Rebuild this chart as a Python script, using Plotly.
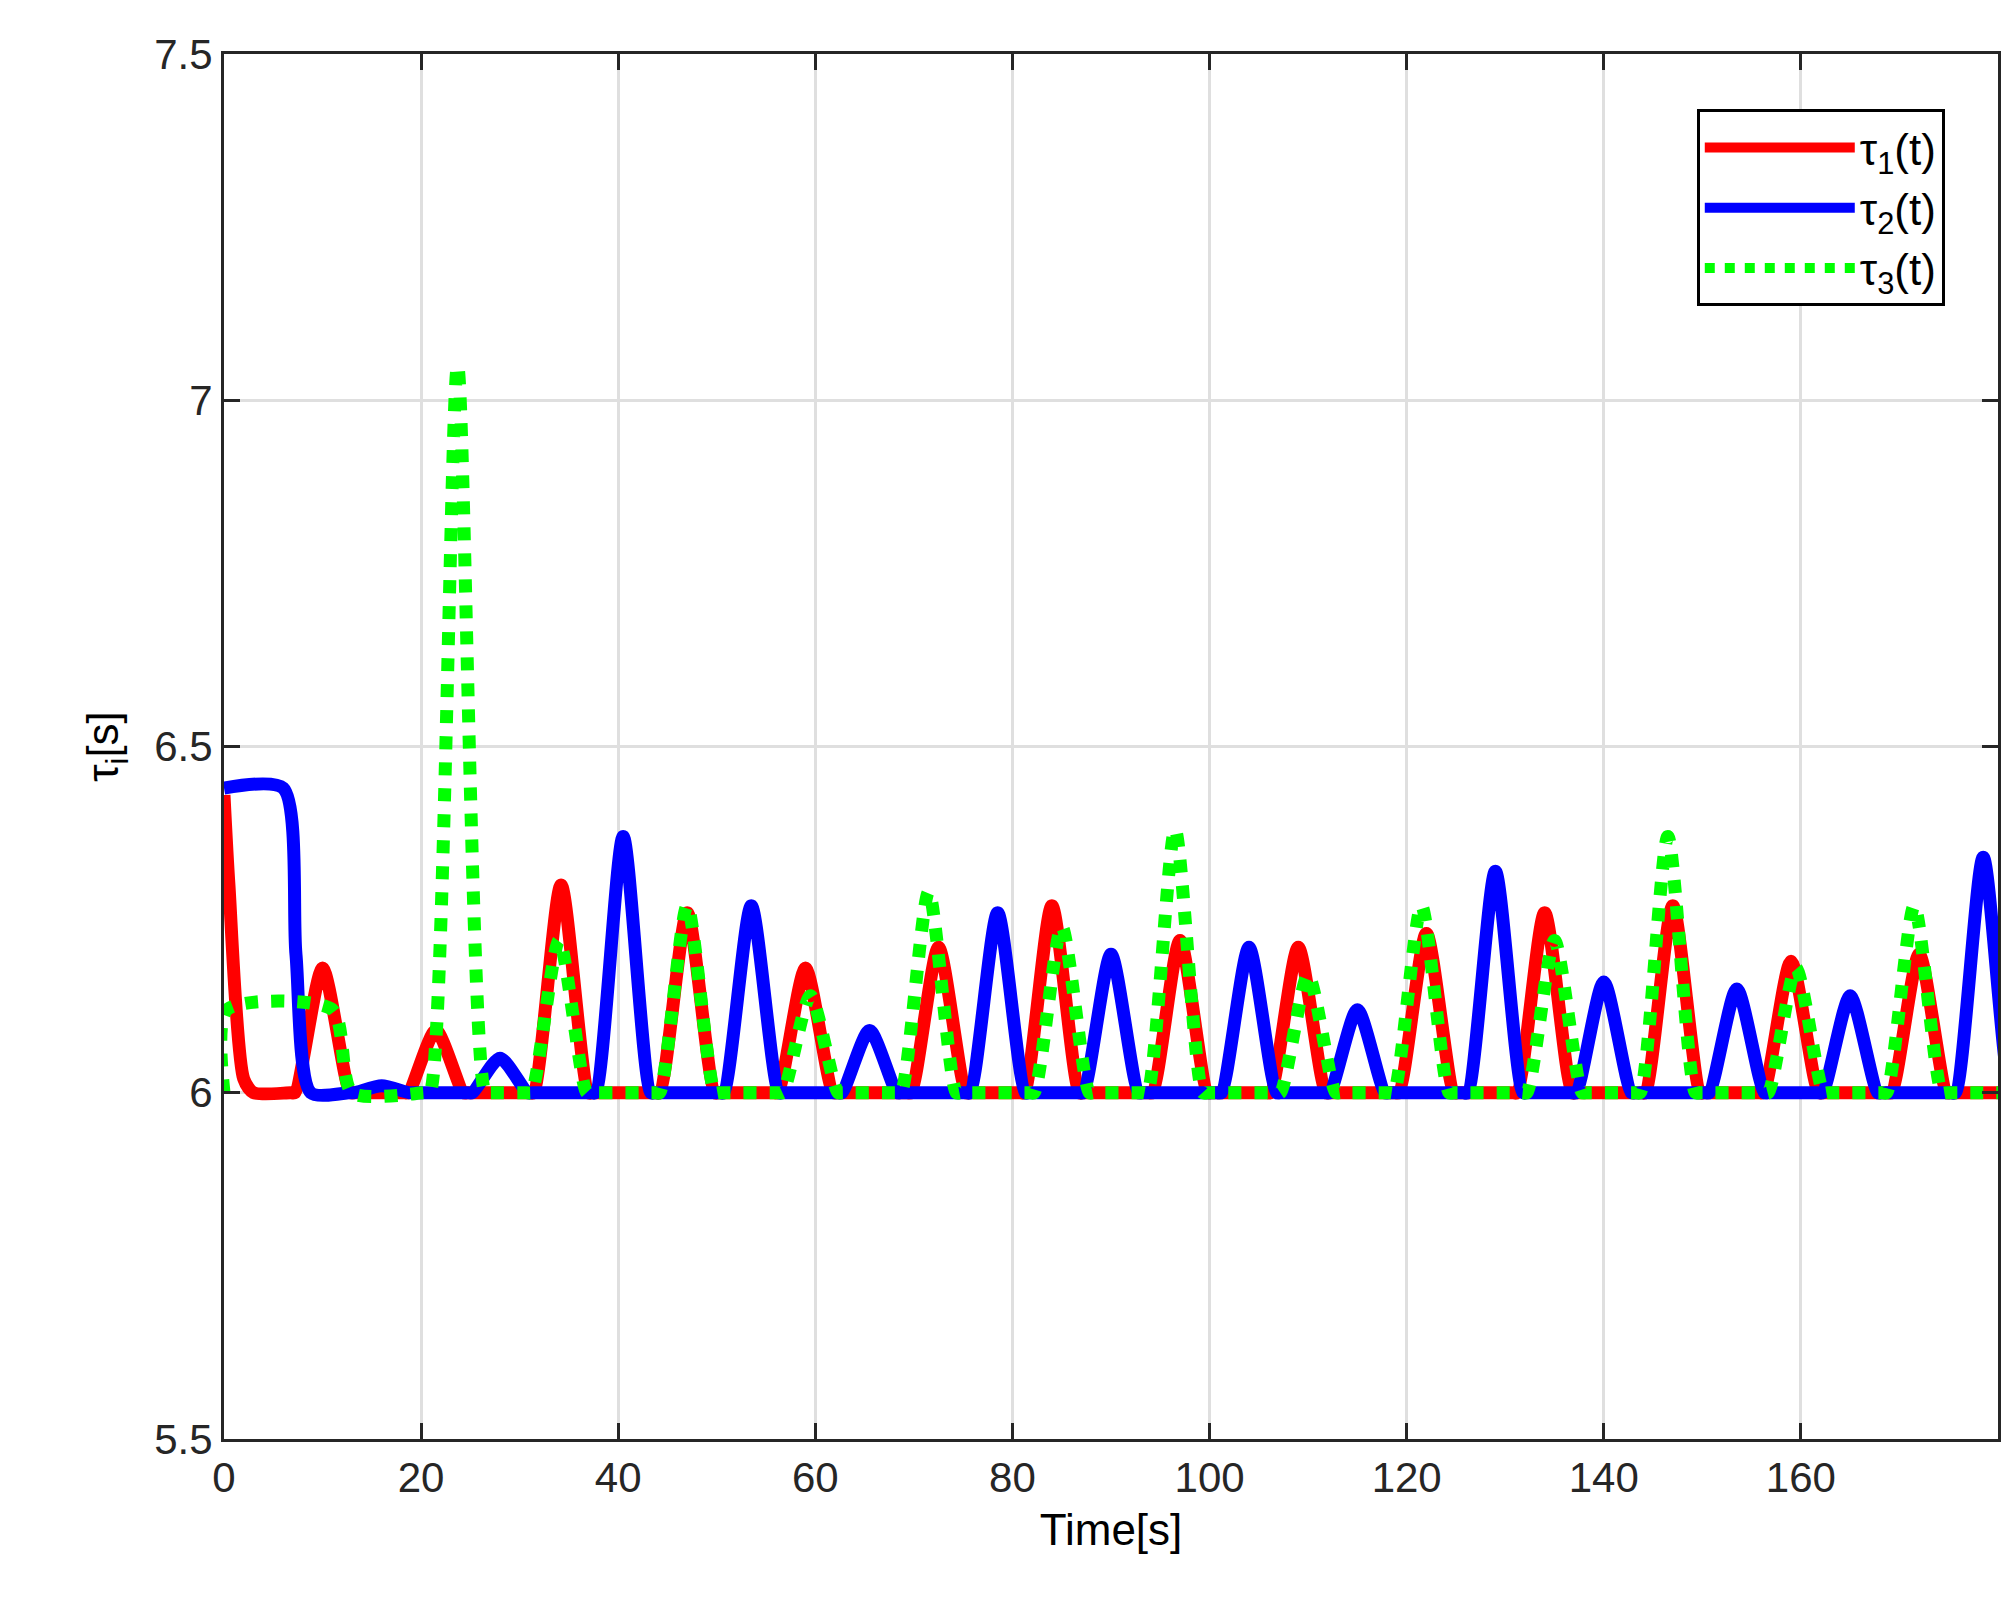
import plotly.graph_objects as go

# tau1 (red): initial segment, then peaks (time, value)
t1_start = [0, 0.5, 2, 3]
v1_start = [6.43, 6.3, 6.02, 6.0]
p1_t = [10, 21.5, 34.2, 47, 59, 72.5, 84, 97, 109, 122, 134, 147, 159, 172]
p1_v = [6.18, 6.09, 6.30, 6.26, 6.18, 6.21, 6.27, 6.22, 6.21, 6.23, 6.26, 6.27, 6.19, 6.20]
# tau2 (blue)
t2_start = [0, 6, 7.3, 8.8]
v2_start = [6.44, 6.44, 6.2, 6.0]
p2_t = [16, 28, 40.5, 53.5, 65.5, 78.5, 90, 104, 115, 129, 140, 153.5, 165, 178.5]
p2_v = [6.01, 6.05, 6.37, 6.27, 6.09, 6.26, 6.20, 6.21, 6.12, 6.32, 6.16, 6.15, 6.14, 6.34]
t2_end, v2_end = [180], [6.22]
# tau3 (green)
t3_start = [0, 0.3, 11, 13]
v3_start = [6.0, 6.12, 6.12, 6.0]
p3_t = [23.7, 34, 47, 59.5, 71.5, 85, 96.5, 110, 121.5, 135, 146.5, 159.5, 171.5]
p3_v = [7.05, 6.22, 6.27, 6.14, 6.29, 6.24, 6.38, 6.17, 6.27, 6.22, 6.37, 6.18, 6.27]

BASE = 6.0
HW = 2.8


def build(ts, vs, pt, pv, te=None, ve=None):
    x, y = list(ts), list(vs)
    for p, h in zip(pt, pv):
        for xx, yy in [(p - HW - 0.5, BASE), (p - HW, BASE), (p, h), (p + HW, BASE), (p + HW + 0.5, BASE)]:
            if xx > x[-1]:
                x.append(xx); y.append(yy)
    if te:
        x += te; y += ve
    else:
        x.append(180); y.append(BASE)
    return x, y


x1, y1 = build(t1_start, v1_start, p1_t, p1_v)
x2, y2 = build(t2_start, v2_start, p2_t, p2_v, t2_end, v2_end)
x3, y3 = build(t3_start, v3_start, p3_t, p3_v)

fig = go.Figure()
sp = dict(shape="spline", smoothing=0.7)
fig.add_trace(go.Scatter(x=x1, y=y1, mode="lines", name="τ<sub>1</sub>(t)",
                         line=dict(color="#ff0000", width=13, **sp)))
fig.add_trace(go.Scatter(x=x2, y=y2, mode="lines", name="τ<sub>2</sub>(t)",
                         line=dict(color="#0000ff", width=13, **sp)))
fig.add_trace(go.Scatter(x=x3, y=y3, mode="lines", name="τ<sub>3</sub>(t)",
                         line=dict(color="#00ff00", width=13, dash="dot", **sp)))

ax = dict(showline=True, linecolor="#262626", linewidth=3, mirror="ticks",
          ticks="inside", ticklen=16, tickwidth=3, tickcolor="#262626",
          showgrid=True, gridcolor="#dfdfdf", gridwidth=3, zeroline=False,
          tickfont=dict(size=42, color="#262626"))
fig.update_layout(
    width=2010, height=1623, plot_bgcolor="white", paper_bgcolor="white",
    font=dict(family="Liberation Sans, Arial", color="#262626"),
    margin=dict(l=216, r=20, t=46, b=192),
    xaxis=dict(range=[0, 180], tickvals=[0, 20, 40, 60, 80, 100, 120, 140, 160],
               title=dict(text="Time[s]", font=dict(size=44, color="#000"), standoff=14), **ax),
    yaxis=dict(range=[5.5, 7.5], tickvals=[5.5, 6, 6.5, 7, 7.5],
               ticktext=["5.5", "6", "6.5", "7", "7.5"],
               title=dict(text="τ<sub>i</sub>[s]", font=dict(size=44, color="#000"), standoff=22), **ax),
    legend=dict(x=0.97, y=0.96, xanchor="right", yanchor="top",
                bordercolor="#000000", borderwidth=3, bgcolor="white",
                font=dict(size=44, color="#000"), itemwidth=150, tracegroupgap=30),
    showlegend=True,
)
fig.write_html("out.html")
